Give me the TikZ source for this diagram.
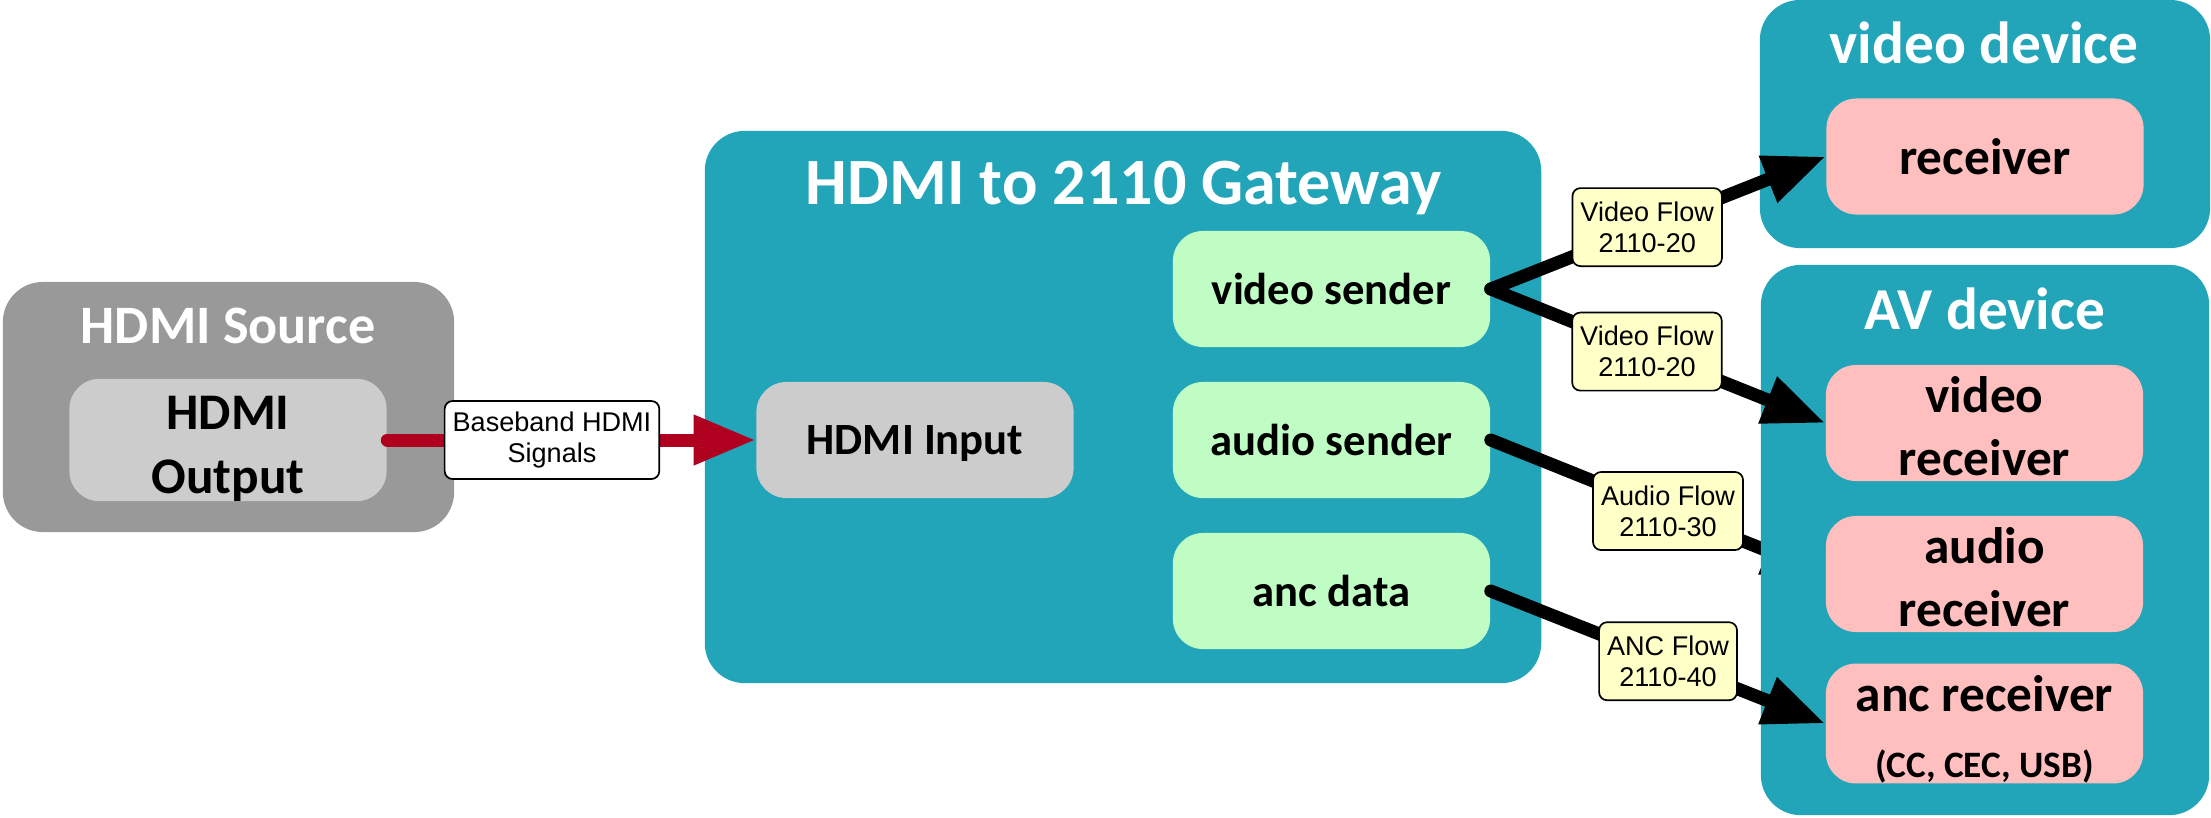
\documentclass[tikz,border=0pt]{standalone}
\usepackage{fontspec}
\setmainfont{Carlito}
\newfontfamily\flowfont{Liberation Sans}
\usetikzlibrary{arrows.meta}

\definecolor{panelteal}{RGB}{34,164,185}
\definecolor{srcgray}{RGB}{153,153,153}
\definecolor{unitgray}{RGB}{204,204,204}
\definecolor{sendgreen}{RGB}{192,253,196}
\definecolor{recvpink}{RGB}{255,191,191}
\definecolor{tagyellow}{RGB}{255,255,200}
\definecolor{hdmired}{RGB}{176,0,32}

% invisible strut that lowers two-line labels a little inside their boxes
\newcommand{\firstlinestrut}[1]{\rule{0pt}{#1}}

\pgfdeclarelayer{back}
\pgfdeclarelayer{mid}
\pgfsetlayers{back,mid,main}

\begin{document}
\begin{tikzpicture}[x=0.01cm,y=-0.01cm,
  panel/.style={fill=panelteal,rounded corners=0.4cm,inner sep=0pt},
  unit/.style={rounded corners=0.3cm,inner sep=0pt,align=center,
    minimum width=3.17cm,minimum height=1.16cm},
  smalltext/.style={font=\bfseries\fontsize{12.7}{15}\selectfont,text depth=-1.2pt},
  bigtext/.style={font=\bfseries\fontsize{14.6}{18}\selectfont},
  title/.style={text=white,anchor=base,inner sep=0pt},
  flow/.style={line width=0.13cm,line cap=round,
    -{Triangle[length=0.62cm,width=0.47cm]}},
  tag/.style={draw=black,line width=0.17mm,fill=tagyellow,rounded corners=0.08cm,
    align=center,inner xsep=0.08cm,inner ysep=0pt,minimum height=0.78cm,
    font=\flowfont\fontsize{7.7}{8.8}\selectfont}]
\useasboundingbox (0,0) rectangle (2211,817);

\begin{pgfonlayer}{back}
  % source device
  \node[panel,fill=srcgray,minimum width=4.51cm,minimum height=2.5cm] (src) at (228.5,407) {};
  \node[title,font=\bfseries\fontsize{15.4}{18}\selectfont] (srct) at (228,343) {HDMI Source};
  \node[unit,bigtext,fill=unitgray] (out) at (228,440) {\firstlinestrut{14.5pt}HDMI\\Output};
  % gateway
  \node[panel,minimum width=8.36cm,minimum height=5.52cm] (gw) at (1123,407) {};
  \node[title,font=\bfseries\fontsize{18.8}{22}\selectfont] (gwt) at (1124,204) {HDMI to 2110 Gateway};
  \node[unit,smalltext,fill=unitgray] (hin) at (915,440) {HDMI Input};
  \node[unit,smalltext,fill=sendgreen] (vs) at (1331.5,289) {video sender};
  \node[unit,smalltext,fill=sendgreen] (as) at (1331.5,440) {audio sender};
  \node[unit,smalltext,fill=sendgreen] (ad) at (1331.5,591) {anc data};
\end{pgfonlayer}

% video-only device
\node[panel,minimum width=4.5cm,minimum height=2.48cm] (vdev) at (1985,124) {};
\node[title,font=\bfseries\fontsize{16.9}{20}\selectfont] (vdevt) at (1984,63) {video device};
\node[unit,bigtext,text depth=-2.4pt,fill=recvpink] (rcv) at (1985,156.5) {receiver};

% audio/video device
\node[panel,minimum width=4.48cm,minimum height=5.5cm] (avdev) at (1985,540) {};
\node[title,font=\bfseries\fontsize{16.9}{20}\selectfont] (avdevt) at (1985,329) {AV device};
\node[unit,bigtext,fill=recvpink] (vr) at (1984.5,423) {\firstlinestrut{12.2pt}video\\receiver};
\node[unit,bigtext,fill=recvpink] (ar) at (1984.5,574) {\firstlinestrut{12.2pt}audio\\receiver};
\node[unit,bigtext,fill=recvpink] (ancr) at (1984.5,723.5)
  {\firstlinestrut{13.5pt}anc receiver\\[1pt]{\fontsize{10.6}{12}\selectfont (CC, CEC, USB)}};

% baseband link
\draw[flow,draw=hdmired] (out.east) -- node[tag,fill=white,pos=0.447] (bb) {Baseband HDMI\\Signals} (hin.west);

% essence flows
\begin{pgfonlayer}{mid}
  \draw[flow] (as.east) -- node[tag,pos=0.53] (af) {Audio Flow\\2110-30} (ar.west);
\end{pgfonlayer}
\draw[flow] (vs.east) -- node[tag,pos=0.467] (vf1) {Video Flow\\2110-20} (rcv.west);
\draw[flow] (vs.east) -- node[tag,pos=0.467] (vf2) {Video Flow\\2110-20} (vr.west);
\draw[flow] (ad.east) -- node[tag,pos=0.53] (ancf) {ANC Flow\\2110-40} (ancr.west);
\end{tikzpicture}
\end{document}
